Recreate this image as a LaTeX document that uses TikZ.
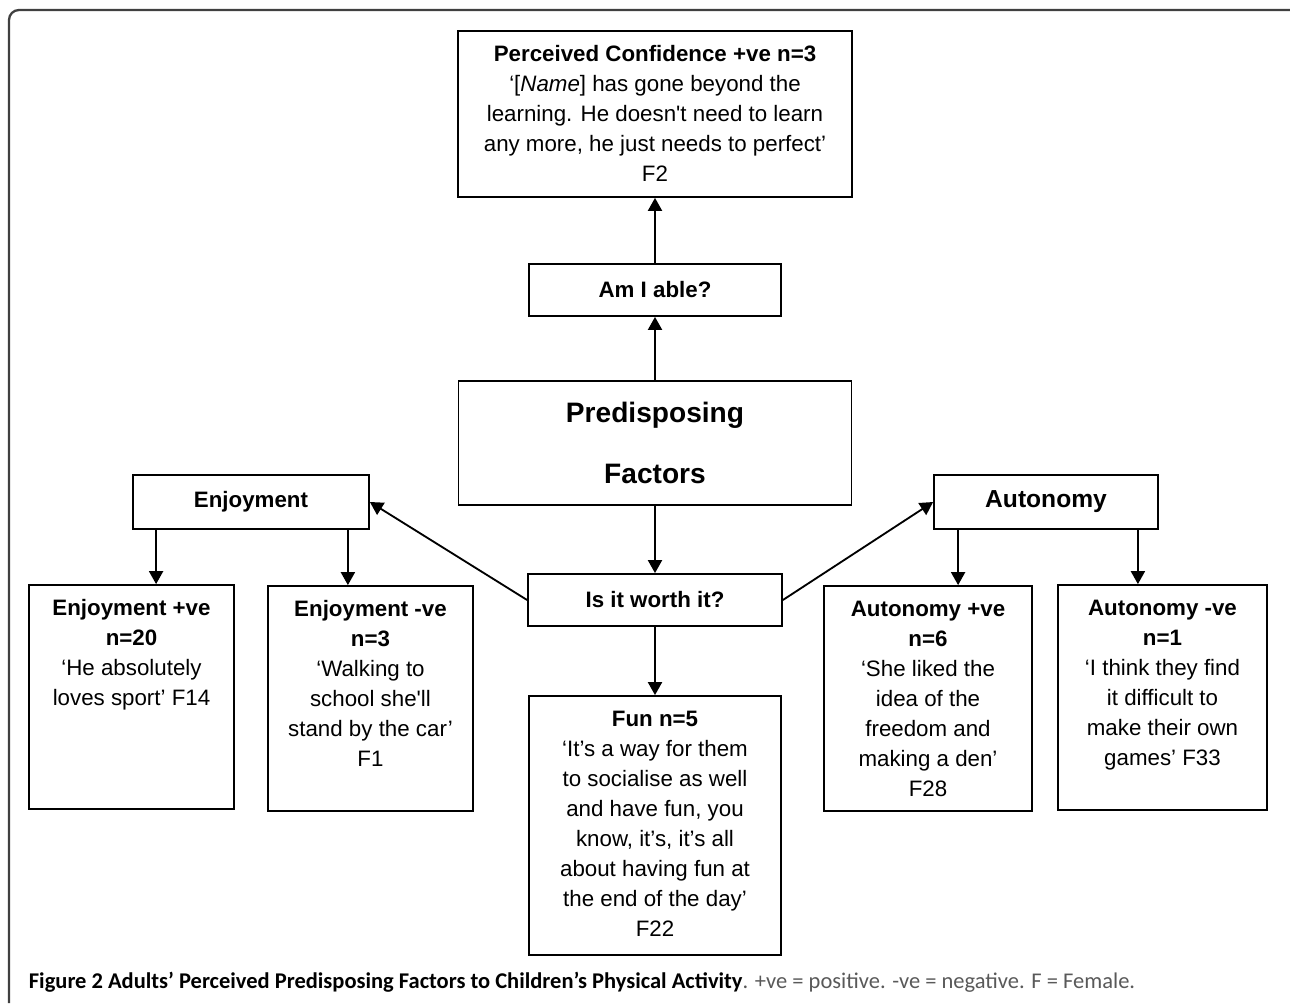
\documentclass[tikz,border=0pt]{standalone}
\usepackage{fontspec}
\newfontfamily\boxfont{Liberation Sans}
\newfontfamily\capfont{Carlito}
\usetikzlibrary{arrows.meta}

\definecolor{framegray}{gray}{0.25}
\definecolor{capgray}{gray}{0.35}
\newcommand\quotetext[3]{\parbox[c][#2][t]{#1}{\centering\rule{0pt}{17.6pt}#3}}
\tikzstyle{quote}=[draw,inner sep=0pt,font=\boxfont\fontsize{12.7}{17}\selectfont]
\tikzstyle{ask}=[draw,inner sep=0pt,minimum height=1.04cm,
                 font=\boxfont\bfseries\fontsize{12.7}{17}\selectfont]

\begin{document}
\begin{tikzpicture}[x=0.02cm, y=-0.02cm, line width=1.05pt,
                    >={Triangle[length=7.4pt,width=8pt]}]
  \useasboundingbox (0,0) rectangle (1290,1003);
  \draw[framegray, line width=1.3pt, rounded corners=0.2cm] (1290,10) -- (9,10) -- (9,1003);

  \node[quote] (conf) at (655,114) {\quotetext{7.88cm}{3.32cm}{\textbf{Perceived Confidence +ve n=3}\\
    ‘[\textit{Name}] has gone beyond the\\ learning. He doesn't need to learn\\
    any more, he just needs to perfect’\\ F2}};
  \node[ask,minimum width=5.04cm] (able) at (655,290) {Am I able?};
  \node[draw,inner sep=0pt,minimum width=7.86cm,minimum height=2.48cm,align=center,
        font=\boxfont\bfseries\fontsize{16}{35}\selectfont] (pre) at (655,443) {Predisposing\\Factors};
  \node[ask,minimum width=5.08cm] (worth) at (655,600) {Is it worth it?};
  \node[quote] (fun) at (655,825.5) {\quotetext{5.04cm}{5.18cm}{\textbf{Fun n=5}\\
    ‘It’s a way for them\\ to socialise as well\\ and have fun, you\\ know, it’s, it’s all\\
    about having fun at\\ the end of the day’\\ F22}};

  \node[ask,minimum width=4.72cm,minimum height=1.08cm] (enj) at (251,502) {Enjoyment};
  \node[quote] (enjpos) at (131.5,697) {\quotetext{4.1cm}{4.48cm}{\textbf{Enjoyment +ve}\\ \textbf{n=20}\\
    ‘He absolutely\\ loves sport’ F14}};
  \node[quote] (enjneg) at (370.5,698.5) {\quotetext{4.1cm}{4.5cm}{\textbf{Enjoyment -ve}\\ \textbf{n=3}\\
    ‘Walking to\\ school she'll\\ stand by the car’\\ F1}};

  \node[ask,minimum width=4.48cm,minimum height=1.08cm,font=\boxfont\bfseries\fontsize{14}{17}\selectfont]
    (aut) at (1046,502) {Autonomy};
  \node[quote] (autpos) at (928,698.5) {\quotetext{4.16cm}{4.5cm}{\textbf{Autonomy +ve}\\ \textbf{n=6}\\
    ‘She liked the\\ idea of the\\ freedom and\\ making a den’\\ F28}};
  \node[quote] (autneg) at (1162.5,697.5) {\quotetext{4.18cm}{4.5cm}{\textbf{Autonomy -ve}\\ \textbf{n=1}\\
    ‘I think they find\\ it difficult to\\ make their own\\ games’ F33}};

  \path[->] (able) edge (conf);
  \path[->] (pre) edge (able);
  \path[->] (pre) edge (worth);
  \path[->] (worth) edge (fun);
  \path[->] (worth.west) edge (enj.east);
  \path[->] (worth.east) edge (aut.west);
  \path[->] ([xshift=0.48cm]enj.south west) edge ([xshift=0.48cm]enj.south west |- enjpos.north);
  \path[->] ([xshift=-0.44cm]enj.south east) edge ([xshift=-0.44cm]enj.south east |- enjneg.north);
  \path[->] ([xshift=0.5cm]aut.south west) edge ([xshift=0.5cm]aut.south west |- autpos.north);
  \path[->] ([xshift=-0.42cm]aut.south east) edge ([xshift=-0.42cm]aut.south east |- autneg.north);

  \node[anchor=base west,inner sep=0pt,font=\capfont\fontsize{12.8}{14}\selectfont] (cap) at (28,988)
    {\textbf{Figure 2 Adults’ Perceived Predisposing Factors to Children’s Physical Activity}\textcolor{capgray}{. +ve = positive. -ve = negative. F = Female.}};
\end{tikzpicture}
\end{document}
